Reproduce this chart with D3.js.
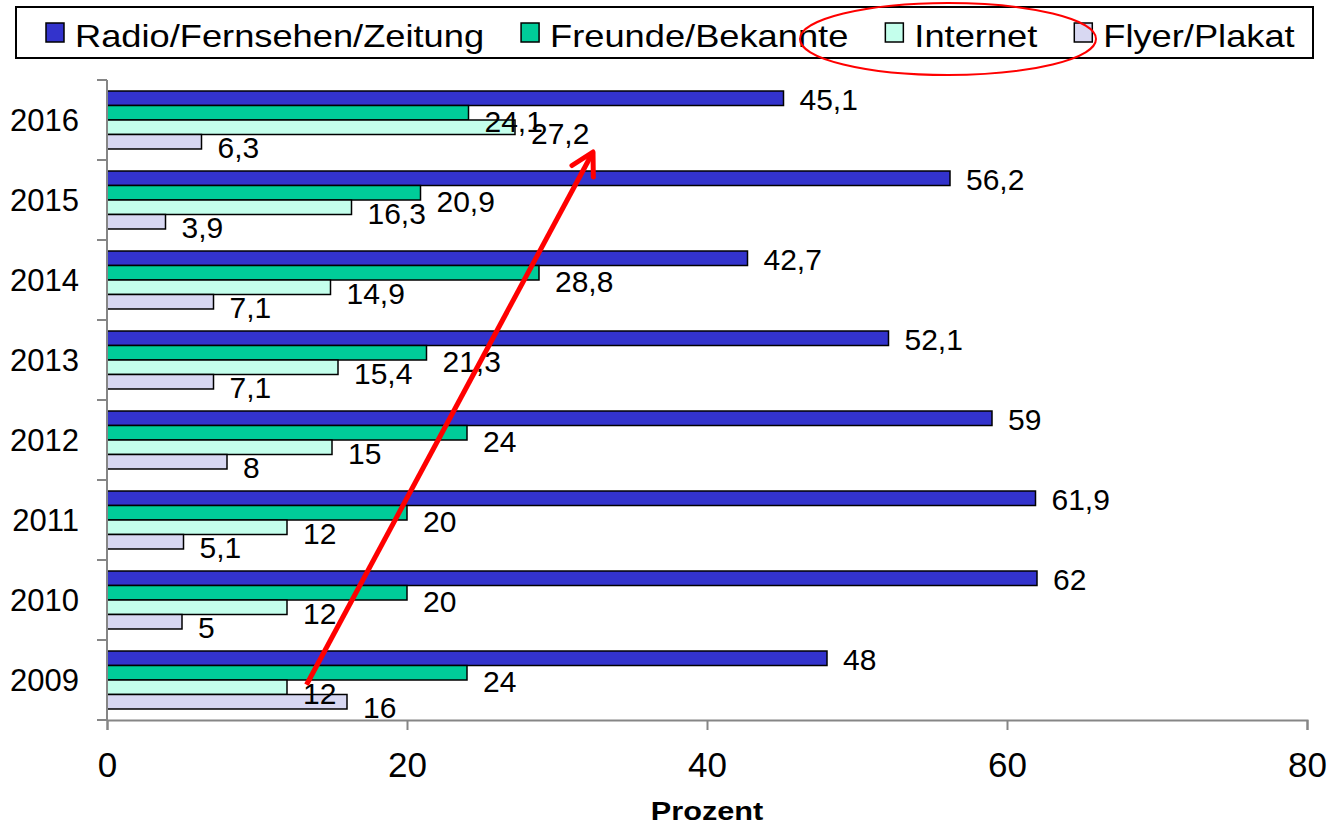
<!DOCTYPE html>
<html lang="de">
<head>
    <meta charset="UTF-8">
    <title>Informationsquellen</title>
    <script src="https://cdn.jsdelivr.net/npm/d3@7"></script>
    <style>
        body { margin: 0; background: #fff; }
        svg { display: block; font-family: "Liberation Sans", Arial, sans-serif; }
        .bar { stroke: #000; stroke-width: 1.5px; }
        .axis-line { stroke: #868686; stroke-width: 2px; fill: none; }
    </style>
</head>
<body>
    <svg width="1330" height="825"></svg>

    <script>
        // Data
        var years = ["2016", "2015", "2014", "2013", "2012", "2011", "2010", "2009"];
        var seriesNames = ["Radio/Fernsehen/Zeitung", "Freunde/Bekannte", "Internet", "Flyer/Plakat"];
        var seriesColors = ["#3333CC", "#00CC99", "#C4FFEC", "#D8D8F2"];
        var radio    = [45.1, 56.2, 42.7, 52.1, 59, 61.9, 62, 48];
        var freunde  = [24.1, 20.9, 28.8, 21.3, 24, 20, 20, 24];
        var internet = [27.2, 16.3, 14.9, 15.4, 15, 12, 12, 12];
        var flyer    = [6.3, 3.9, 7.1, 7.1, 8, 5.1, 5, 16];
        var xTicks = [0, 20, 40, 60, 80];
        var xTitle = "Prozent";
        // annotation arrow: value + year (+ fraction of the year band)
        var arrowFrom = { value: 13.3, year: "2009", frac: 0.56 };
        var arrowTo   = { value: 32.4, year: "2016", frac: 0.90 };

        var allSeries = [radio, freunde, internet, flyer];
        // labels sit a little below their bars (more so for the lower three series)
        var labelDrop = [12, 19, 17, 16];

        var svg = d3.select("svg");
        var margin = { left: 107, right: 23, top: 80, bottom: 105 };
        var width = 1330, height = 825;

        var x = d3.scaleLinear().domain([0, 80]).range([margin.left, width - margin.right]);
        var y = d3.scaleBand().domain(years).range([margin.top, height - margin.bottom]);
        var ySub = d3.scaleBand().domain(seriesNames).range([0, y.bandwidth()]).paddingOuter(0.76);

        var rows = [];
        years.forEach(function(yr, i) {
            seriesNames.forEach(function(s, j) {
                rows.push({ year: yr, series: s, value: allSeries[j][i], color: seriesColors[j], drop: labelDrop[j] });
            });
        });

        // Bars
        svg.append("g").selectAll("rect")
            .data(rows)
            .enter().append("rect")
            .attr("class", "bar")
            .attr("x", x(0))
            .attr("y", function(d) { return y(d.year) + ySub(d.series); })
            .attr("width", function(d) { return x(d.value) - x(0); })
            .attr("height", ySub.bandwidth())
            .attr("fill", function(d) { return d.color; });

        // Value labels
        svg.append("g").selectAll("text")
            .data(rows)
            .enter().append("text")
            .attr("x", function(d) { return x(d.value) + 16; })
            .attr("y", function(d) { return y(d.year) + ySub(d.series) + ySub.bandwidth() / 2 + d.drop; })
            .attr("font-size", 30)
            .text(function(d) { return String(d.value).replace(".", ","); });

        // X axis
        var xAxis = svg.append("g")
            .attr("transform", "translate(0," + (height - margin.bottom) + ")")
            .call(d3.axisBottom(x).tickValues(xTicks).tickSize(10).tickSizeOuter(10).tickPadding(22));
        xAxis.select(".domain").attr("class", "axis-line");
        xAxis.selectAll(".tick line").attr("stroke", "#868686").attr("stroke-width", 2);
        xAxis.selectAll(".tick text")
            .attr("font-family", "Liberation Sans, Arial, sans-serif")
            .attr("font-size", 35)
            .attr("fill", "#000");

        // Y axis (ticks at band boundaries)
        var yEdges = years.map(function(yr) { return y(yr); }).concat([y.range()[1]]);
        var yAxis = svg.append("g");
        yAxis.append("line")
            .attr("class", "axis-line")
            .attr("x1", x(0)).attr("x2", x(0))
            .attr("y1", y.range()[0]).attr("y2", y.range()[1]);
        yAxis.selectAll(".ytick")
            .data(yEdges)
            .enter().append("line")
            .attr("class", "axis-line")
            .attr("x1", x(0) - 10).attr("x2", x(0))
            .attr("y1", function(d) { return d; }).attr("y2", function(d) { return d; });
        yAxis.selectAll("text")
            .data(years)
            .enter().append("text")
            .attr("x", 79)
            .attr("y", function(d) { return y(d) + y.bandwidth() / 2 + 11; })
            .attr("text-anchor", "end")
            .attr("font-size", 31)
            .text(function(d) { return d; });

        // Axis title
        svg.append("text")
            .attr("transform", "translate(" + ((x(0) + x(80)) / 2) + ",820) scale(1.18,1)")
            .attr("text-anchor", "middle")
            .attr("font-size", 26)
            .attr("font-weight", "bold")
            .text(xTitle);

        // Arrow annotation
        var ax1 = x(arrowFrom.value), ay1 = y(arrowFrom.year) + arrowFrom.frac * y.bandwidth();
        var ax2 = x(arrowTo.value), ay2 = y(arrowTo.year) + arrowTo.frac * y.bandwidth();
        var ang = Math.atan2(ay1 - ay2, ax1 - ax2);
        var wing = 25, spread = 29 * Math.PI / 180;
        var arrow = svg.append("g")
            .attr("stroke", "#FF0000")
            .attr("stroke-width", 5)
            .attr("fill", "none");
        arrow.append("line")
            .attr("x1", ax1).attr("y1", ay1).attr("x2", ax2).attr("y2", ay2);
        arrow.append("path")
            .attr("stroke-linejoin", "round")
            .attr("stroke-linecap", "round")
            .attr("d", "M" + (ax2 + wing * Math.cos(ang + spread)) + "," + (ay2 + wing * Math.sin(ang + spread)) +
                "L" + ax2 + "," + ay2 +
                "L" + (ax2 + wing * Math.cos(ang - spread)) + "," + (ay2 + wing * Math.sin(ang - spread)));

        // Legend
        var legend = svg.append("g");
        legend.append("rect")
            .attr("x", 16).attr("y", 7)
            .attr("width", 1297).attr("height", 51)
            .attr("fill", "#fff")
            .attr("stroke", "#000")
            .attr("stroke-width", 2);

        var lx = 46;
        seriesNames.forEach(function(s, i) {
            legend.append("rect")
                .attr("class", "bar")
                .attr("x", lx).attr("y", 23)
                .attr("width", 18).attr("height", 19)
                .attr("fill", seriesColors[i]);
            var t = legend.append("text")
                .attr("transform", "translate(" + (lx + 29) + ",47) scale(1.17,1)")
                .attr("font-size", 31)
                .text(s);
            lx += 29 + t.node().getComputedTextLength() * 1.17 + 37;
        });

        // Red highlight ellipse round Internet / Flyer
        svg.append("ellipse")
            .attr("cx", 948).attr("cy", 39)
            .attr("rx", 148).attr("ry", 36)
            .attr("fill", "none")
            .attr("stroke", "#FF0000")
            .attr("stroke-width", 2);
    </script>
</body>
</html>
